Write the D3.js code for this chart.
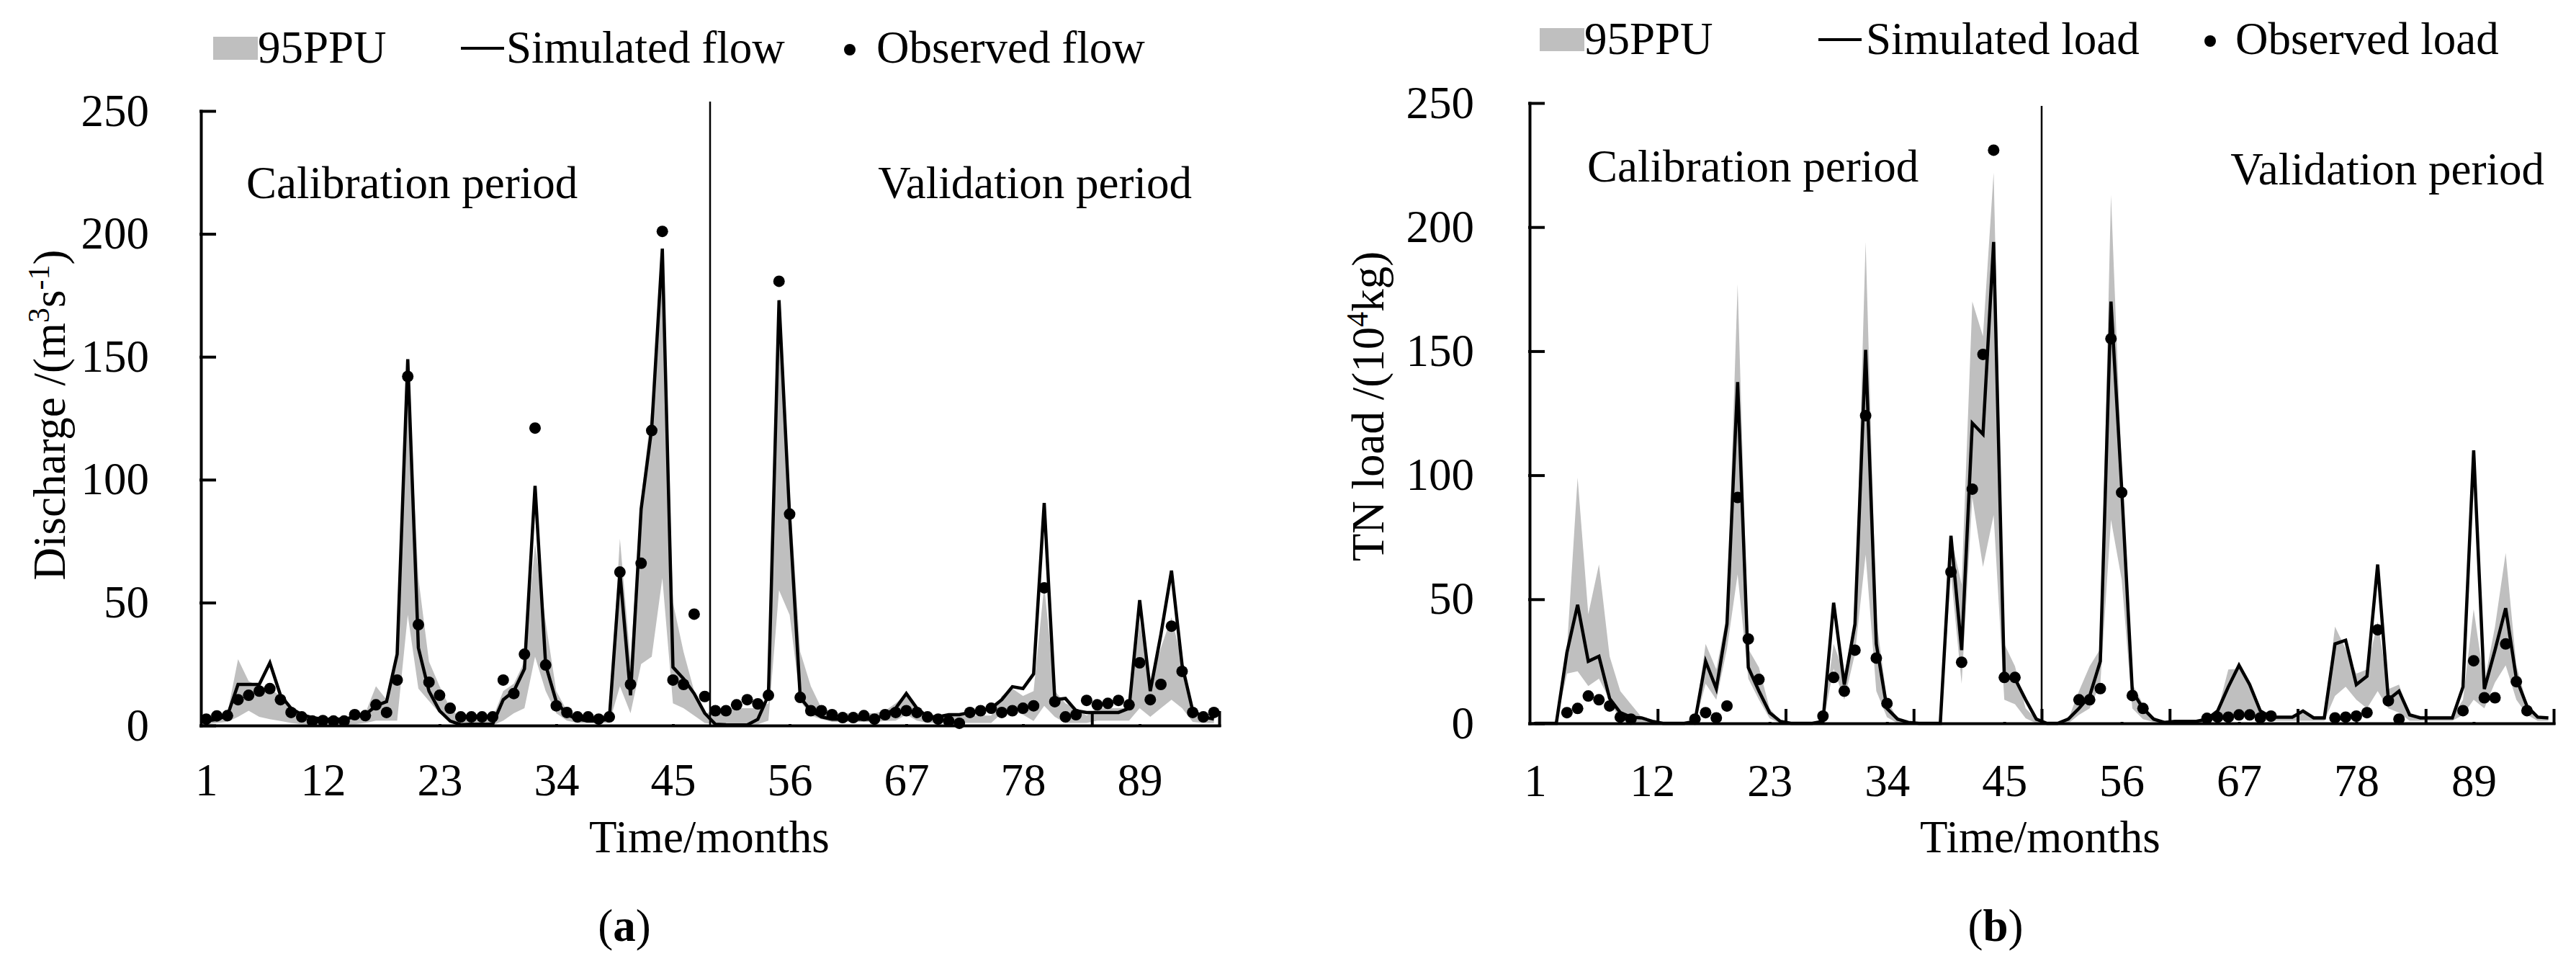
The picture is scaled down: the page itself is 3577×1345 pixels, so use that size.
<!DOCTYPE html>
<meta charset="utf-8">
<html>
  <head>
    <title>95PPU, simulated and observed series</title>
    <style>
      body {
        margin: 0;
        background: #ffffff;
      }
      svg text {
        font-family: "Liberation Serif", "Times New Roman", serif;
        font-size: 63px;
        fill: #000000;
      }
    </style>
  </head>

  <body>
    <div id="chart"></div>
  </body>

<script src="https://d3js.org/d3.v7.min.js"></script>

<script>
// Tick labels and categories
var monthLabels = [1, 12, 23, 34, 45, 56, 67, 78, 89]
var yTickValues = [0, 50, 100, 150, 200, 250]
var months = d3.range(1, 97)

// (a) discharge, m3/s
var flowObs = [2.6,3.9,4,10.5,12.3,14,15,10.5,5.3,3.5,
  1.8,2,1.8,1.8,4.4,4,8.4,5.3,18.5,142,
  41,17.6,12.3,7,3.5,3.5,3.5,3.5,18.5,13,
  29,121,24.6,8,5.3,3.5,3.5,2.6,3.5,62.4,
  16.7,66,120,201,18.5,16.7,45.3,11.8,6,6,
  8.4,10.5,8.8,12.3,180.7,86,11.4,6,6,4.4,
  3.2,3.2,4,2.6,4.4,5.3,6,5.3,3.5,2.6,
  1.8,0.9,5.3,6,7,5.3,6,7,8,56,
  9.7,3.5,4.4,10.2,8.4,9,10.2,8.4,25.5,10.5,
  16.7,40.4,22,5.3,3.5,5.3]
var flowSim = [1.8,2.5,4,16.7,16.7,16.7,25.5,12.3,7,4.4,
  3.2,2.6,2.6,2.6,3.5,4.4,8,9.7,29,149,
  31.6,14,6,1.8,0.3,0.5,0.5,0.5,10.5,14,
  23,97.5,24.6,9.7,4.4,2.6,1.8,1.8,2.6,62.4,
  12.3,88,121,194,23.7,19,13,5,0.5,0.3,
  0.2,0.2,2.5,12.3,173,85,11.4,6,3.5,2.6,
  2.6,2.6,2.6,2.6,4.4,7,13,7,3.5,3.5,
  4.4,4.4,5.3,6,7,10.5,15.8,15,21,90.5,
  10.5,11,6,5.3,5.3,5.3,5.3,7,51,14,
  37,63,24.6,6,3.5,2.6]
var flowLow = [0.5,1,1.5,3.5,6,3.5,2.6,1.8,1,0.5,
  0.5,0.5,0.5,0.5,0.5,1,2,2,2,45,
  15,10,5,2,0,0,0,0,2,5,
  7,28,14,5,2,1,1,1,1,16,
  5,25,28,60,9,7,4,1,0.5,0.5,
  0.5,0.5,0.5,2,55,45,10,4,2.6,1.5,
  1.5,1.5,1.5,1.5,1.8,2,4.4,2,1,1,
  1,1,1,1,1,5,6,4.4,1.8,8,
  3.5,1,1,1,2,2,2,2,7,3.5,
  7,10.5,7,1.5,1,1]
var flowUp = [3,4,5,27,18,16,15,12,7,4,
  3.5,3,3,3,4,5,16,10.5,28,145,
  60,26,16,7,3,3,3,3,14,17,
  26,74,42,14,6,4,4,4,4,76,
  26,92,130,190,50,30,14,4.4,7,7,
  7,7,7,9,160,95,30,16,7,5,
  5,5,5,5,6,9,13,7,4,4,
  4,4,4,4,4,12,15,12,14,57,
  14,9,7,4,7,7,7,7,42,17.6,
  31.6,44,26,7,4,4]

// (b) TN load, 10^4 kg (null = no observation)
var loadObs = [null,null,null,4.3,6,11,9.5,7,2.5,1.7,
  null,null,null,null,null,1.7,4.3,2.2,7,91,
  34,17.7,null,null,null,null,null,2.9,18.5,13,
  29.5,124,26.3,8,null,null,null,null,null,61,
  24.6,94.4,148.7,231,18.5,18.5,null,null,null,null,
  null,9.5,9.5,14,155,93,11.2,6,null,null,
  null,null,null,2,2.5,2.5,3.4,3.4,2.2,2.9,
  null,null,null,null,null,2.2,2.5,2.9,4.3,37.7,
  9.1,1.7,null,null,null,null,null,5.1,25.2,10.3,
  10.3,32,16.8,5.1,null,null]
var loadSim = [0,0,0,28.6,47.8,25,27,10,4.3,2.5,
  2.2,0.8,0,0,0,0.8,25,14,40,137.5,
  22.5,13,4.3,0.8,0,0,0,0.8,48.6,15.6,
  40,150.5,32,6,1.7,0.4,0,0,0,75.6,
  29.5,121,116.5,194,18.5,18,9.5,1.7,0,0,
  1.7,6,11,25,170,95,13,6,1.7,0.4,
  0.8,0.8,0.8,1.7,5,14.7,23.4,15.6,5,2.5,
  2.5,2.5,5,2.2,2.2,32,33.5,15.6,19,64,
  9.5,13,3.4,2.2,2.2,2.2,2.2,14.7,110,13.8,
  29.5,46.4,18,6.9,2.5,2.2]
var loadLow = [0,0,0,20,21,15,18,9.5,1,0.5,
  0,0,0,0,0,0,16,9.5,30,60,
  18,9.5,2,0,0,0,0,0,22,9.5,
  28,68,13,2.5,0,0,0,0,0,60,
  16,91,63,84,9.5,7.7,2,0,0,0,
  0,3.4,6,16,82,58,6,1.7,0.5,0,
  0,0,0,0.5,1.7,3.4,4.3,3.4,1.7,1,
  1,1,1,1,1,11,14.7,9.5,6,13,
  6,4.3,1,1,1,1,1,3.4,9.5,6,
  16.5,23.4,9.5,3.4,1,1]
var loadUp = [0,0,0,30,99,44,64,27,13,7.7,
  2.5,0.8,0,0,0,1,32,21.7,44,177,
  30,22.5,6,1,0,0,0,1,32,20,
  42,194,42,9.5,1.7,0.5,0,0,0,75,
  56,170,156,222,32,23,6,1.7,0,0,
  1.7,13,23,30,213,103,16,7.7,2.5,0.5,
  1,1,1,2.5,5,21.7,22,14.7,5,3,
  3,3,5,3,3,39,30,20,21.7,41,
  13.8,15.6,3.4,3,3,3,3,9.5,46,16.5,
  39,68.7,23.4,7.7,3,3]

// tick marks on the x axis sit between categories
var flowMarks = [84.5, 96.5]
var loadMarks = [12.5, 24.5, 36.5, 48.5, 60.5, 72.5, 84.5, 96.5]

var svg = d3.select("#chart")
  .append("svg")
    .attr("width", 3577)
    .attr("height", 1345)

svg.append("rect")
    .attr("width", 3577)
    .attr("height", 1345)
    .attr("fill", "#ffffff")

var panels = [
  {
    left: 279, right: 1693, top: 154, bottom: 1007,
    yPad: 72, xPad: 52, sepTop: 141, marks: flowMarks,
    obs: flowObs, sim: flowSim, low: flowLow, up: flowUp,
    legendY: 87, legendX: [296, 640, 1180], legendText: [358, 703, 1217],
    legendNames: ["95PPU", "Simulated flow", "Observed flow"],
    calX: 342, calY: 275, valX: 1655, valY: 275,
    titleX: 90, titleY: 576,
    title: [["Discharge /(m", 0], ["3", -1], ["s", 1], ["-1", -1], [")", 1]],
    xTitleX: 985, tag: "a", tagX: 867
  },
  {
    left: 2124, right: 3546, top: 143, bottom: 1004,
    yPad: 77, xPad: 56, sepTop: 147, marks: loadMarks,
    obs: loadObs, sim: loadSim, low: loadLow, up: loadUp,
    legendY: 75, legendX: [2138, 2525, 3069], legendText: [2200, 2591, 3104],
    legendNames: ["95PPU", "Simulated load", "Observed load"],
    calX: 2204, calY: 252, valX: 3533, valY: 256,
    titleX: 1921, titleY: 564,
    title: [["TN load /(10", 0], ["4", -1], ["kg)", 1]],
    xTitleX: 2833, tag: "b", tagX: 2771
  }
]

panels.forEach(drawPanel)

function drawPanel(p) {

  var x = d3.scaleLinear()
    .domain([0.5, 96.5])
    .range([p.left, p.right])
  var y = d3.scaleLinear()
    .domain([0, 250])
    .range([p.bottom, p.top])

  var g = svg.append("g")

  // 95PPU band
  var band = d3.area()
    .x(function(d, i) { return x(months[i]) })
    .y0(function(d, i) { return y(p.low[i]) })
    .y1(function(d, i) { return y(p.up[i]) })
  g.append("path")
    .datum(months)
    .attr("d", band)
    .attr("fill", "#bfbfbf")

  // calibration / validation split
  g.append("line")
    .attr("x1", x(48.5)).attr("x2", x(48.5))
    .attr("y1", p.sepTop).attr("y2", p.bottom)
    .attr("stroke", "#000")
    .attr("stroke-width", 2.5)

  // simulated line
  var simLine = d3.line()
    .x(function(d, i) { return x(months[i]) })
    .y(function(d, i) { return y(p.sim[i]) })
  g.append("path")
    .datum(months)
    .attr("d", simLine)
    .attr("fill", "none")
    .attr("stroke", "#000")
    .attr("stroke-width", 4.5)

  // observed dots
  var obsPts = months
    .map(function(m, i) { return { m: m, v: p.obs[i] } })
    .filter(function(d) { return d.v !== null })
  g.selectAll("obsDot")
    .data(obsPts)
    .enter()
    .append("circle")
      .attr("cx", function(d) { return x(d.m) })
      .attr("cy", function(d) { return y(d.v) })
      .attr("r", 8)
      .attr("fill", "#000")

  // axes
  var yAxis = g.append("g")
    .attr("transform", "translate(" + p.left + ",0)")
    .call(d3.axisLeft(y).tickValues(yTickValues).tickSizeInner(-19).tickSizeOuter(0).tickPadding(p.yPad))
  var xAxis = g.append("g")
    .attr("transform", "translate(0," + p.bottom + ")")
    .call(d3.axisBottom(x).tickValues(monthLabels).tickSize(0).tickPadding(p.xPad))
  var xMarks = g.append("g")
    .attr("transform", "translate(0," + p.bottom + ")")
    .call(d3.axisBottom(x).tickValues(p.marks).tickSizeInner(-18).tickSizeOuter(0).tickFormat(""))
  xMarks.select(".domain").remove()

  g.selectAll(".tick line, .domain")
    .attr("stroke-width", 4)
    .attr("stroke-linecap", "square")

  // period labels
  g.append("text")
    .attr("x", p.calX)
    .attr("y", p.calY)
    .text("Calibration period")
  g.append("text")
    .attr("x", p.valX)
    .attr("y", p.valY)
    .attr("text-anchor", "end")
    .text("Validation period")

  // axis titles
  var yTitle = g.append("text")
    .attr("transform", "translate(" + p.titleX + "," + p.titleY + ") rotate(-90)")
    .attr("text-anchor", "middle")
  p.title.forEach(function(part) {
    var sup = part[0].length <= 2 && part[1] === -1
    yTitle.append("tspan")
      .attr("dy", part[1] * 22)
      .style("font-size", sup ? "42px" : null)
      .text(part[0])
  })

  g.append("text")
    .attr("x", p.xTitleX)
    .attr("y", 1183)
    .attr("text-anchor", "middle")
    .text("Time/months")

  var tag = g.append("text")
    .attr("x", p.tagX)
    .attr("y", 1306)
    .attr("text-anchor", "middle")
  tag.append("tspan").text("(")
  tag.append("tspan").style("font-weight", "bold").text(p.tag)
  tag.append("tspan").text(")")

  // legend
  var ly = p.legendY
  g.append("rect")
    .attr("x", p.legendX[0])
    .attr("y", ly - 36)
    .attr("width", 62)
    .attr("height", 32)
    .attr("fill", "#bfbfbf")
  g.append("line")
    .attr("x1", p.legendX[1]).attr("x2", p.legendX[1] + 60)
    .attr("y1", ly - 20).attr("y2", ly - 20)
    .attr("stroke", "#000")
    .attr("stroke-width", 4)
  g.append("circle")
    .attr("cx", p.legendX[2])
    .attr("cy", ly - 18)
    .attr("r", 8)
    .attr("fill", "#000")
  g.selectAll("legendLabels")
    .data(p.legendNames)
    .enter()
    .append("text")
      .attr("x", function(d, i) { return p.legendText[i] })
      .attr("y", ly)
      .text(function(d) { return d })
}
</script>

</html>
